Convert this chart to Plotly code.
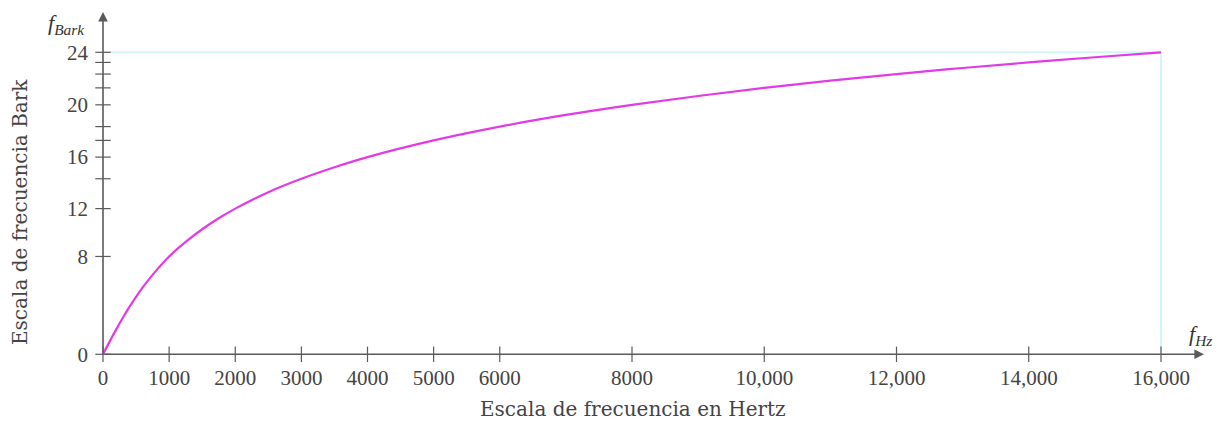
import plotly.graph_objects as go

# ---- data ----
hz = [0, 100, 200, 300, 400, 500, 600, 800, 1000, 1250, 1500, 1750, 2000, 2500,
      3000, 3500, 4000, 5000, 6000, 7000, 8000, 9000, 10000, 11000, 12000, 13000,
      14000, 15000, 16000]
bark = [0, 1.00, 1.97, 2.89, 3.75, 4.54, 5.29, 6.59, 7.73, 8.88, 9.88, 10.75, 11.51,
        12.81, 13.87, 14.78, 15.58, 16.90, 17.99, 18.91, 19.71, 20.41, 21.05, 21.62,
        22.14, 22.62, 23.06, 23.47, 23.86]

x_tick_vals = [0, 1000, 2000, 3000, 4000, 5000, 6000, 8000, 10000, 12000, 14000, 16000]
x_tick_text = ["0", "1000", "2000", "3000", "4000", "5000", "6000", "8000",
               "10,000", "12,000", "14,000", "16,000"]
y_tick_vals = [0, 7.73, 11.51, 13.87, 15.58, 16.90, 17.99, 19.71, 21.05, 22.14, 23.06, 23.86]
y_tick_text = ["0", "8", "12", "", "16", "", "", "20", "", "", "", "24"]

x_title = "Escala de frecuencia en Hertz"
y_title = "Escala de frecuencia Bark"

# ---- layout geometry (body margin removed by post_script) ----
W, H = 1218, 423
FONT = "Liberation Serif"
TFONT = "DejaVu Serif"
AXC = "#5a5a5a"
TXC = "#444444"
x_end, y_end = hz[-1], bark[-1]
x0_px, x16_px = 103, 1161
hz_per_px = x_end / (x16_px - x0_px)
xr = [-x0_px * hz_per_px, (W - x0_px) * hz_per_px]
y0_px, ytop_px = 354.3, 52.3
bark_per_px = y_end / (y0_px - ytop_px)
yr = [-(H - y0_px) * bark_per_px, y0_px * bark_per_px]


def px_x(p):
    return (p - x0_px) * hz_per_px


def px_y(p):
    return (y0_px - p) * bark_per_px


fig = go.Figure()

# guide lines (light cyan)
fig.add_trace(go.Scatter(x=[0, x_end, x_end], y=[y_end, y_end, 0], mode="lines",
                         line=dict(color="#d2f6f6", width=2), hoverinfo="skip"))
# curve
fig.add_trace(go.Scatter(x=hz, y=bark, mode="lines", line=dict(color="#e23ae6", width=2.2),
                         line_shape="spline", hoverinfo="skip"))
# tick marks crossing the axes
fig.add_trace(go.Scatter(x=x_tick_vals, y=[0] * len(x_tick_vals), mode="markers",
                         marker=dict(symbol="line-ns", size=11, line=dict(color=AXC, width=1.2)),
                         hoverinfo="skip"))
fig.add_trace(go.Scatter(x=[0] * len(y_tick_vals), y=y_tick_vals, mode="markers",
                         marker=dict(symbol="line-ew", size=11, line=dict(color=AXC, width=1.2)),
                         hoverinfo="skip"))

# axis lines with arrowheads
fig.add_annotation(x=px_x(1204), y=0, ax=0, ay=0, xref="x", yref="y", axref="x", ayref="y",
                   text="", showarrow=True, arrowhead=2, arrowsize=1.2, arrowwidth=1.6,
                   arrowcolor=AXC)
fig.add_annotation(x=0, y=px_y(12), ax=0, ay=0, xref="x", yref="y", axref="x", ayref="y",
                   text="", showarrow=True, arrowhead=2, arrowsize=1.2, arrowwidth=1.6,
                   arrowcolor=AXC)

# axis variable labels
fig.add_annotation(x=px_x(66), y=px_y(24), xref="x", yref="y",
                   text="<i>f</i><sub><i>Bark</i></sub>", showarrow=False,
                   font=dict(family=FONT, size=22, color="#333"))
fig.add_annotation(x=px_x(1200), y=px_y(335), xref="x", yref="y",
                   text="<i>f</i><sub><i>Hz</i></sub>", showarrow=False,
                   font=dict(family=FONT, size=22, color="#333"))

# axis titles
fig.add_annotation(x=px_x(633), y=px_y(409), xref="x", yref="y",
                   text=x_title, showarrow=False, font=dict(family=TFONT, size=20, color=TXC))
fig.add_annotation(x=px_x(20), y=px_y(212), xref="x", yref="y",
                   text=y_title, textangle=-90, showarrow=False,
                   font=dict(family=TFONT, size=20, color=TXC))

fig.update_layout(
    width=W, height=H, margin=dict(l=0, r=0, t=0, b=0),
    plot_bgcolor="white", paper_bgcolor="white", showlegend=False,
    xaxis=dict(range=xr, tickvals=x_tick_vals, ticktext=x_tick_text, showgrid=False,
               zeroline=False, showline=False, ticks="", anchor="free",
               position=(H - y0_px) / H, ticklabelstandoff=9,
               tickfont=dict(family=FONT, size=21, color=TXC)),
    yaxis=dict(range=yr, tickvals=y_tick_vals, ticktext=y_tick_text, showgrid=False,
               zeroline=False, showline=False, ticks="", anchor="free",
               position=x0_px / W, ticklabelstandoff=15,
               tickfont=dict(family=FONT, size=21, color=TXC)),
)

fig.write_html("out.html", config={"displayModeBar": False},
               post_script="document.body.style.margin='0px';"
                           "document.body.style.overflow='hidden';")
